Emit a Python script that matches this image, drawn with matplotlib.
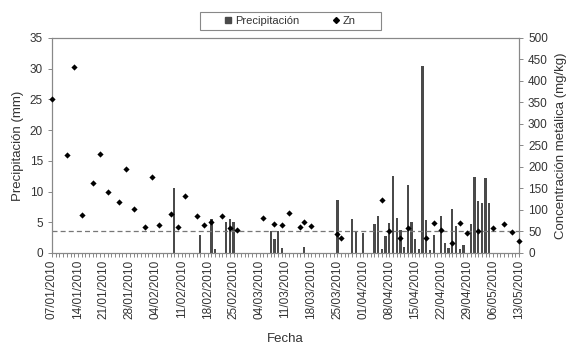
import matplotlib
matplotlib.use("Agg")
import matplotlib.pyplot as plt
import matplotlib.dates as mdates
from matplotlib.ticker import FixedLocator
from matplotlib.lines import Line2D
from matplotlib.patches import Rectangle
import pandas as pd

plt.rcParams['font.family'] = ['Liberation Sans', 'DejaVu Sans']

# Precipitation (mm)
precip_dates = ["09/02/2010", "16/02/2010", "19/02/2010", "20/02/2010", "23/02/2010",
                "24/02/2010", "25/02/2010", "07/03/2010", "08/03/2010", "09/03/2010",
                "10/03/2010", "16/03/2010", "25/03/2010", "29/03/2010", "30/03/2010",
                "01/04/2010", "04/04/2010", "05/04/2010", "06/04/2010", "07/04/2010",
                "08/04/2010", "09/04/2010", "10/04/2010", "11/04/2010", "12/04/2010",
                "13/04/2010", "14/04/2010", "15/04/2010", "16/04/2010", "17/04/2010",
                "18/04/2010", "19/04/2010", "20/04/2010", "22/04/2010", "23/04/2010",
                "24/04/2010", "25/04/2010", "26/04/2010", "27/04/2010", "28/04/2010",
                "30/04/2010", "01/05/2010", "02/05/2010", "03/05/2010", "04/05/2010",
                "05/05/2010"]
precip_vals = [10.5, 2.9, 5.6, 0.6, 5.1,
               5.6, 5.1, 3.5, 2.2, 3.5,
               0.8, 1.0, 8.6, 5.5, 3.5,
               3.2, 4.8, 6.1, 0.6, 2.7,
               4.9, 12.5, 5.7, 3.7, 0.9,
               11.1, 5.1, 2.2, 0.6, 30.5,
               5.4, 0.5, 2.9, 6.0, 1.6,
               0.8, 7.1, 4.4, 0.65, 1.3,
               4.8, 12.4, 8.5, 8.1, 12.2,
               8.2]

# Zn concentration (mg/kg)
zn_dates = ["07/01/2010", "11/01/2010", "13/01/2010", "15/01/2010", "18/01/2010",
            "20/01/2010", "22/01/2010", "25/01/2010", "27/01/2010", "29/01/2010",
            "01/02/2010", "03/02/2010", "05/02/2010", "08/02/2010", "10/02/2010",
            "12/02/2010", "15/02/2010", "17/02/2010", "19/02/2010", "22/02/2010",
            "24/02/2010", "26/02/2010", "05/03/2010", "08/03/2010", "10/03/2010",
            "12/03/2010", "15/03/2010", "16/03/2010", "18/03/2010", "25/03/2010",
            "26/03/2010", "06/04/2010", "08/04/2010", "11/04/2010", "13/04/2010",
            "18/04/2010", "20/04/2010", "22/04/2010", "25/04/2010", "27/04/2010",
            "29/04/2010", "02/05/2010", "06/05/2010", "09/05/2010", "11/05/2010",
            "13/05/2010"]
zn_vals = [357, 229, 432, 88, 163,
           230, 142, 118, 195, 103,
           61, 177, 65, 90, 61,
           133, 86, 64, 71, 86,
           58, 53, 81, 67, 64,
           92, 60, 73, 63, 44,
           36, 123, 50, 34, 57,
           34, 69, 53, 23, 69,
           46, 51, 57, 67, 49,
           29]

limit_zn = 50
start, end = "07/01/2010", "13/05/2010"

pdates = pd.to_datetime(precip_dates, format="%d/%m/%Y")
zdates = pd.to_datetime(zn_dates, format="%d/%m/%Y")
x0 = pd.to_datetime(start, format="%d/%m/%Y")
x1 = pd.to_datetime(end, format="%d/%m/%Y")

txt = '#333333'
spine_c = '#888888'

fig = plt.figure(figsize=(5.70, 3.47), dpi=100)
ax = fig.add_axes([0.0912, 0.2709, 0.8193, 0.6196])
ax.bar(pdates, precip_vals, width=0.62, color='#4a4a4a', linewidth=0, zorder=2)
ax.set_xlim(x0, x1)
ax.set_ylim(0, 35)
ax.set_yticks(range(0, 36, 5))

ax2 = ax.twinx()
ax2.set_ylim(0, 500)
ax2.set_yticks(range(0, 501, 50))
ax2.axhline(limit_zn, color='#777777', lw=0.9, dashes=(4, 2.5), zorder=1)
ax2.scatter(zdates, zn_vals, marker='D', s=10, color='black', linewidths=0,
            zorder=3, clip_on=False)

weeks = pd.date_range(x0, x1, freq='7D')
ax.xaxis.set_major_locator(FixedLocator(mdates.date2num(weeks)))
ax.xaxis.set_minor_locator(mdates.DayLocator())
ax.xaxis.set_major_formatter(mdates.DateFormatter('%d/%m/%Y'))
for lab in ax.get_xticklabels():
    lab.set_rotation(90)

for a in (ax, ax2):
    for s in a.spines.values():
        s.set_color(spine_c)
        s.set_linewidth(0.8)
    a.tick_params(which='both', color=spine_c, labelcolor=txt, labelsize=8.5, length=3, width=0.7)
ax.tick_params(axis='x', which='major', pad=2)
ax.tick_params(axis='x', which='minor', length=3)

ax.set_xlabel('Fecha', fontsize=9.5, color=txt, labelpad=10)
ax.set_ylabel('Precipitación (mm)', fontsize=9.5, color=txt, labelpad=4)
ax2.set_ylabel('Concentración metálica (mg/kg)', fontsize=9.5, color=txt, labelpad=5)

handles = [Line2D([], [], marker='s', color='#4a4a4a', ls='none', markersize=4.5),
           Line2D([], [], marker='D', color='black', ls='none', markersize=3)]
leg = fig.legend(handles, ['Precipitación', 'Zn'], loc='center',
                 bbox_to_anchor=(0.509, 0.9395), ncol=2, fontsize=8, frameon=False,
                 handlelength=0.6, handletextpad=0.3, columnspacing=3.0,
                 borderpad=0, borderaxespad=0)
for t in leg.get_texts():
    t.set_color(txt)
fig.patches.append(Rectangle((200 / 570, 1 - 30 / 347), 181 / 570, 18 / 347,
                             transform=fig.transFigure, facecolor='none',
                             edgecolor=spine_c, linewidth=0.8))

fig.savefig('out.png', dpi=100)
